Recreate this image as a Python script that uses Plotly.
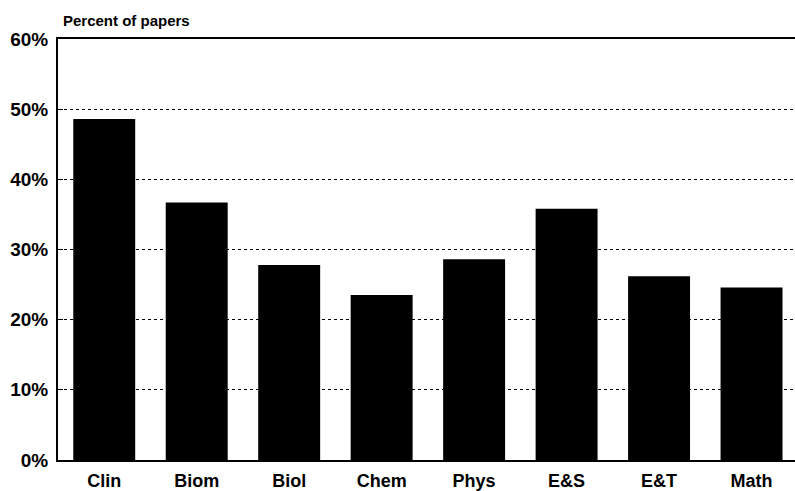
import plotly.graph_objects as go

categories = ["Clin", "Biom", "Biol", "Chem", "Phys", "E&S", "E&T", "Math"]
values = [48.6, 36.7, 27.8, 23.5, 28.6, 35.8, 26.2, 24.6]
y_ticks = [0, 10, 20, 30, 40, 50, 60]
y_tick_labels = ["0%", "10%", "20%", "30%", "40%", "50%", "60%"]

fig = go.Figure(go.Bar(x=list(range(len(categories))), y=values,
                       marker=dict(color="black", line=dict(width=0))))

font_family = "Liberation Sans, Arial, sans-serif"
fig.update_layout(
    width=795, height=491,
    margin=dict(l=58, r=0, t=39, b=31),
    paper_bgcolor="white", plot_bgcolor="white",
    bargap=0.33,
    showlegend=False,
    font=dict(family=font_family, color="black", size=18, weight="bold"),
)
fig.update_xaxes(
    range=[-0.5, 7.47],
    tickvals=list(range(len(categories))), ticktext=categories,
    showgrid=False, showline=True, linecolor="black", linewidth=1.5, mirror=True,
    ticks="", tickfont=dict(size=18, weight="bold"), ticklabelstandoff=4,
)
fig.update_yaxes(
    range=[0, 60], tickvals=y_ticks, ticktext=y_tick_labels,
    showgrid=True, gridcolor="black", griddash="dot", gridwidth=1,
    showline=True, linecolor="black", linewidth=2,
    ticks="inside", ticklen=5, tickcolor="black", tickwidth=1,
    tickfont=dict(size=19, weight="bold"), ticklabelstandoff=4, zeroline=False,
)
fig.add_annotation(text="Percent of papers", xref="paper", yref="paper",
                   x=0.004, y=1, xanchor="left", yanchor="bottom", yshift=8,
                   showarrow=False, font=dict(size=15, family=font_family, weight="bold"))
fig.write_html("out.html", config={"displayModeBar": False},
               post_script="document.body.style.margin='0';document.body.style.overflow='hidden';")
